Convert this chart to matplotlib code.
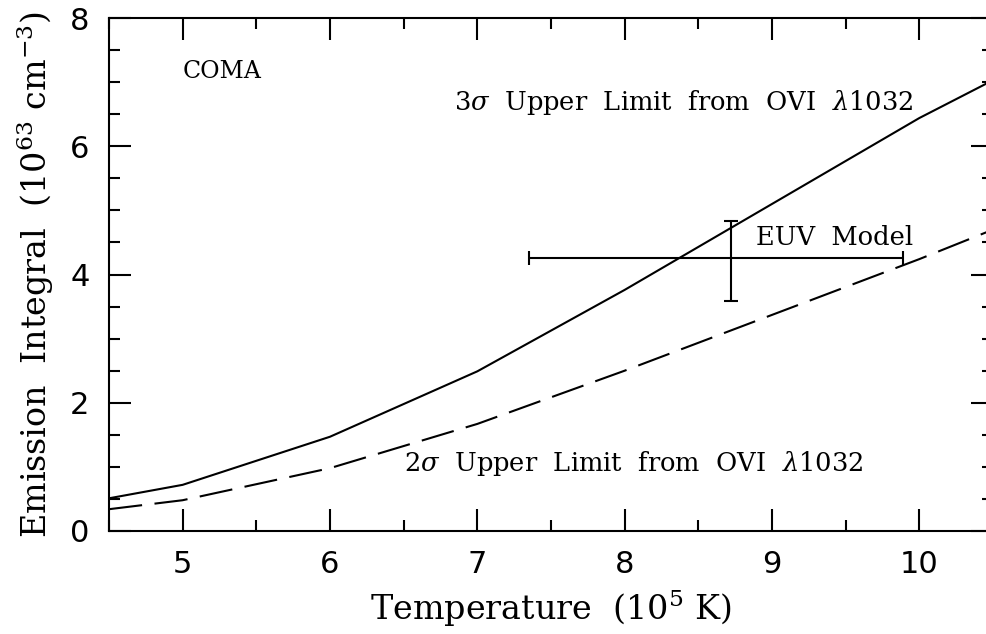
import numpy as np
import matplotlib
matplotlib.use('Agg')
import matplotlib.pyplot as plt
from matplotlib.ticker import MultipleLocator

# temperature grid (10^5 K)
temp = [4.5, 5, 6, 7, 8, 9, 10, 10.5]
# 3 sigma and 2 sigma upper limits from OVI 1032 (10^63 cm^-3)
lim3 = [0.51, 0.72, 1.47, 2.49, 3.76, 5.10, 6.44, 7.03]
lim2 = [0.34, 0.48, 0.98, 1.67, 2.50, 3.37, 4.24, 4.70]

# EUV model point with asymmetric errors
euv_t = [8.72]
euv_em = [4.25]
euv_terr = [[1.37], [1.17]]
euv_emerr = [[0.67], [0.58]]

plt.rcParams['font.family'] = 'DejaVu Serif'
plt.rcParams['mathtext.fontset'] = 'dejavuserif'

fig = plt.figure(figsize=(9.87, 6.34), dpi=100)
ax = fig.add_axes([109 / 987, 1 - 531 / 634, (993 - 109) / 987, (531 - 18) / 634])

ax.plot(temp, lim3, color='black', lw=1.5)
ax.plot(temp, lim2, color='black', lw=1.5, dashes=(16, 6))
ax.errorbar(euv_t, euv_em, xerr=euv_terr, yerr=euv_emerr, fmt='none',
            ecolor='black', elinewidth=1.5, capsize=5, capthick=1.5)

ax.text(5.0, 7.16, 'COMA', fontsize=17, va='center', ha='left')
ax.text(6.84, 6.69, r'3$\sigma$  Upper  Limit  from  OVI  $\lambda$1032', fontsize=18.5, va='center')
ax.text(8.89, 4.57, 'EUV  Model', fontsize=18.5, va='center')
ax.text(6.5, 1.06, r'2$\sigma$  Upper  Limit  from  OVI  $\lambda$1032', fontsize=18.5, va='center')

ax.set_xlim(4.5, 10.5)
ax.set_ylim(0, 8)
ax.xaxis.set_major_locator(MultipleLocator(1))
ax.xaxis.set_minor_locator(MultipleLocator(0.5))
ax.yaxis.set_major_locator(MultipleLocator(2))
ax.yaxis.set_minor_locator(MultipleLocator(0.5))
ax.tick_params(which='both', direction='in', top=True, right=True, width=1.5)
ax.tick_params(which='major', length=16, labelsize=22)
ax.tick_params(axis='x', which='major', pad=14)
ax.tick_params(axis='y', which='major', pad=14)
ax.tick_params(which='minor', length=8)
for lab in ax.get_xticklabels() + ax.get_yticklabels():
    lab.set_family('DejaVu Sans')
for sp in ax.spines.values():
    sp.set_linewidth(1.5)

ax.set_xlabel(r'Temperature  (10$^5$ K)', fontsize=24, labelpad=6)
ax.set_ylabel(r'Emission  Integral  (10$^{63}$ cm$^{-3}$)', fontsize=24, labelpad=10)

fig.savefig('out.png', dpi=100)
